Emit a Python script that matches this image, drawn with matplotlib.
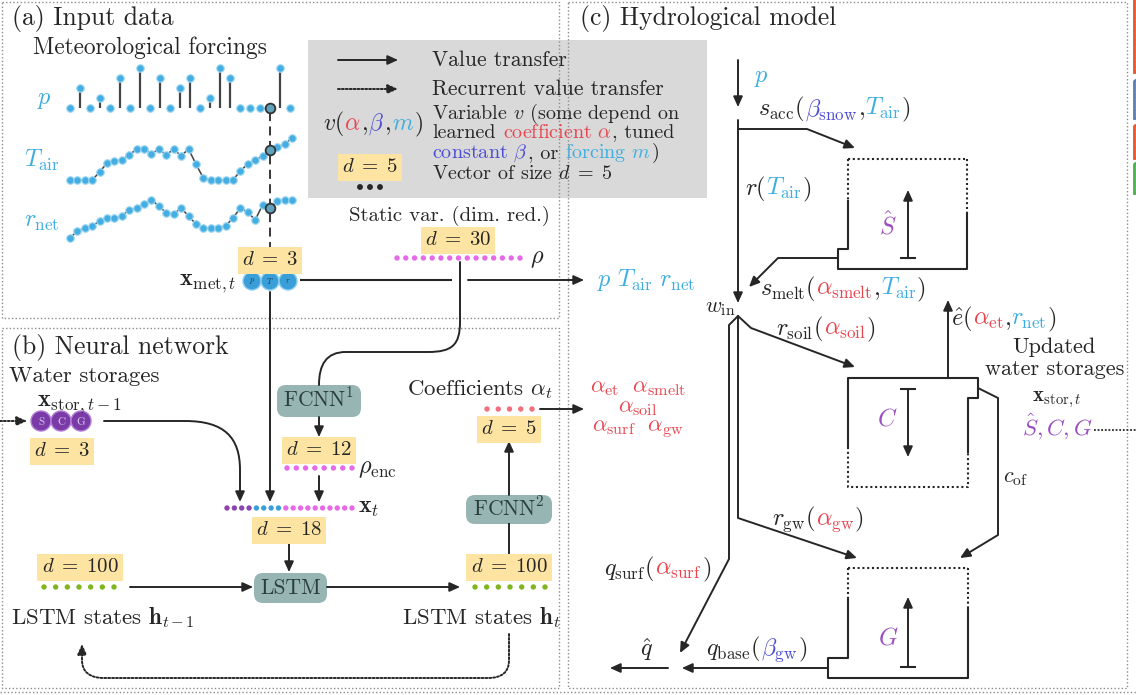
import numpy as np
import matplotlib
matplotlib.use("Agg")
import matplotlib.pyplot as plt
from matplotlib.patches import FancyBboxPatch, Circle, FancyArrowPatch, Rectangle
from matplotlib.path import Path

# ---------------- data ----------------
p_series = [0, 2, 0, 1, 0, 3, 0, 4, 0, 3, 0, 2, 3, 0, 1, 4, 3, 0, 0, 0, 0, 4, 0]
T_air_series = [0, 0, 0, 0, 8, 17, 19, 20, 25, 31, 31, 26, 31, 25, 31, 24, 31, 16, 2,
                0, 0, 0, 0, 9, 16, 20, 24, 30, 33, 36, 42]
r_net_series = [0, 7, 10, 12, 17, 20, 20, 22, 28, 30, 34, 38, 32, 25, 24, 30, 22, 14, 10,
                10, 10, 12, 20, 30, 26, 18, 33, 30, 37, 38, 38]
p_now = 20
met_now = 27

storage_letters = ["S", "C", "G"]
forcing_letters = ["p", "T", "r"]
static_dots = 15      # d = 30 (dim. red.)
enc_dots = 8          # d = 12
xt_parts = [4, 4, 10]  # storages, forcings, encoded statics -> d = 18
h_dots = 7            # d = 100
coef_dots = 5         # d = 5
coef_lines = [r"$\alpha_{\mathrm{et}}\ \ \alpha_{\mathrm{smelt}}$",
              r"$\alpha_{\mathrm{soil}}$",
              r"$\alpha_{\mathrm{surf}}\ \ \alpha_{\mathrm{gw}}$"]

# ---------------- style ----------------
plt.rcParams["mathtext.fontset"] = "cm"
plt.rcParams["font.family"] = ["cmr10", "DejaVu Serif"]
plt.rcParams["axes.unicode_minus"] = False

K = "#262626"
RED = "#e8454f"
BLUE = "#4b4bd6"
CYAN = "#3eaee0"
PURP = "#9a4fc0"
MAG = "#e46ae8"
GREEN = "#7fb51e"
PINK = "#f0707e"
YEL = "#fde4a2"
BOXC = "#96b5b3"
GRAY = "#d9d9d9"

TS = 18.5   # panel titles
BS = 15.5   # body text
LS = 14.5   # legend multi-line text
MS = 17.5   # math labels
HS = 16.5   # headings inside panels
DS = 15     # d = n labels

W, H = 1136, 695
fig = plt.figure(figsize=(W / 100, H / 100), dpi=100)
ax = fig.add_axes([0, 0, 1, 1])
ax.set_xlim(0, W)
ax.set_ylim(H, 0)
ax.axis("off")
R = fig.canvas.get_renderer()


def txt(x, y, s, size=BS, color=K, ha="left", **kw):
    return ax.text(x, y + 0.36 * size, s, fontsize=size, color=color, ha=ha,
                   va="baseline", zorder=6, **kw)


def rtext(x, y, parts, size=MS, ha="left"):
    sp = 0.333 * size * 100 / 72
    cur = x
    objs = []
    for s, c in parts:
        lead = len(s) - len(s.lstrip(" "))
        trail = len(s) - len(s.rstrip(" "))
        cur += lead * sp
        t = ax.text(cur, y + 0.36 * size, s.strip(" "), color=c, fontsize=size,
                    ha="left", va="baseline", zorder=6)
        cur += t.get_window_extent(renderer=R).width + trail * sp + 0.4
        objs.append(t)
    total = cur - x
    shift = {"left": 0, "center": -total / 2, "right": -total}[ha]
    for t in objs:
        px, py = t.get_position()
        t.set_x(px + shift)


def dlab(x, y, n, size=DS):
    ax.text(x, y + 0.36 * size, r"$d\;=\;%s$" % n, fontsize=size, color=K, ha="center",
            va="baseline", zorder=6,
            bbox=dict(boxstyle="square,pad=0.2", fc=YEL, ec="none"))


def arrow(pts, ls="-", head=True, lw=1.4, codes=None):
    path = Path(pts, codes) if codes is not None else Path(pts)
    style = "-|>,head_length=0.55,head_width=0.25" if head else "-"
    a = FancyArrowPatch(path=path, arrowstyle=style, mutation_scale=11, lw=lw,
                        color=K, linestyle=ls, shrinkA=0, shrinkB=0, zorder=4)
    ax.add_patch(a)


def seg(pts, ls="-", lw=1.5):
    xs, ys = zip(*pts)
    ax.plot(xs, ys, color=K, lw=lw, ls=ls, solid_capstyle="butt", zorder=4)


DOT = (0, (1, 1.3))


def row(x0, x1, y, colors, s=15):
    xs = np.linspace(x0, x1, len(colors))
    ax.scatter(xs, [y] * len(colors), c=colors, s=s, linewidths=0, zorder=5)


def rbox(x0, y0, w, h, label, size=15.5):
    ax.add_patch(FancyBboxPatch((x0, y0), w, h, boxstyle="round,pad=0,rounding_size=9",
                                fc=BOXC, ec="none", zorder=3))
    ax.text(x0 + w / 2, y0 + h / 2 + 0.36 * size, label, fontsize=size, color="#2b3d3d",
            ha="center", va="baseline", zorder=6)


# ---------------- panel frames ----------------
fr = dict(color="#8c8c8c", lw=1, ls=(0, (1, 1.6)), zorder=1)
ax.plot([2, 559, 559, 2, 2], [2, 2, 318, 318, 2], **fr)
ax.plot([2, 559, 559, 2, 2], [328, 328, 688, 688, 328], **fr)
ax.plot([568, 1127, 1127, 568, 568], [2, 2, 688, 688, 2], **fr)
ax.plot([0, 1136], [692, 692], **fr)
for (y0, h, c) in [(-3, 75, "#e4572e"), (80, 38, "#5b7fae"), (125, 33, "#e4572e"), (163, 30, "#4caf50")]:
    ax.add_patch(Rectangle((1133.5, y0), 8, h, fc="none", ec=c, lw=2, zorder=2))

# ---------------- (a) input data ----------------
txt(12, 18, "(a) Input data", size=TS)
txt(33, 48, "Meteorological forcings", size=16.8)
txt(37, 98, r"$p$", size=MS, color=CYAN)
txt(24, 161, r"$T_{\mathrm{air}}$", size=MS, color=CYAN)
txt(24, 221, r"$r_{\mathrm{net}}$", size=MS, color=CYAN)


def spark(x0, x1, yb, yt, n, vmax):
    a = fig.add_axes([x0 / W, 1 - yb / H, (x1 - x0) / W, (yb - yt) / H])
    a.set_xlim(0, n - 1)
    a.set_ylim(0, vmax)
    a.axis("off")
    a.patch.set_visible(False)
    return a


mk = dict(marker="o", ms=5.4, mfc="#44aee2", mec="#9dd6f2", mew=0.8, clip_on=False)
cur_mk = dict(marker="o", ms=7, mfc="#5fa2bc", mec="#333333", mew=1.3, clip_on=False, zorder=5)

idx = np.arange(len(p_series))
ap = spark(70, 290, 108, 68, len(p_series), 4)
ap.vlines(idx, 0, p_series, color="#444444", lw=1.6)
ap.plot(idx, p_series, ls="none", **mk)
ap.plot([p_now], [p_series[p_now]], ls="none", **cur_mk)

tidx = np.arange(len(T_air_series))
at = spark(70, 292.2, 180, 138, len(T_air_series), 42)
at.plot(tidx, T_air_series, color="#444444", lw=1.1, **mk)
at.plot([met_now], [T_air_series[met_now]], ls="none", **cur_mk)

ridx = np.arange(len(r_net_series))
ar = spark(70, 292.2, 238, 200, len(r_net_series), 38)
ar.plot(ridx, r_net_series, color="#444444", lw=1.1, **mk)
ar.plot([met_now], [r_net_series[met_now]], ls="none", **cur_mk)

ax.plot([270, 270], [112, 249], color=K, lw=1.3, ls=(0, (5, 3)), zorder=2)

# x_met vector
dlab(270, 260, 3)
for i, l in enumerate(forcing_letters):
    cx = 252 + 18 * i
    ax.add_patch(Circle((cx, 281), 9, fc="#3a9fd8", ec="#8ccdf0", lw=1, zorder=5))
    ax.text(cx, 281, r"$%s$" % l, fontsize=6, color="#16425e", ha="center", va="center", zorder=6)
txt(236, 279, r"$\mathbf{x}_{\mathrm{met},t}$", size=MS, ha="right")
seg([(300, 280), (452, 280)])
arrow([(468, 280), (584, 280)])
txt(597, 280, r"$p\ T_{\mathrm{air}}\ r_{\mathrm{net}}$", size=MS, color=CYAN)

# static variables
txt(449, 216, "Static var. (dim. red.)", size=15, ha="center")
dlab(458, 240, 30)
row(397, 520, 258, [MAG] * static_dots)
txt(530, 257, r"$\rho$", size=MS)

# legend box
ax.add_patch(Rectangle((308, 40), 399, 158, fc=GRAY, ec="none", zorder=0))
arrow([(338, 60), (398, 60)])
arrow([(338, 89), (398, 89)], ls=(0, (1, 1)))
txt(432, 60, "Value transfer")
txt(432, 89, "Recurrent value transfer")
rtext(373, 124, [(r"$v($", K), (r"$\alpha$", RED), (r"$,$", K), (r"$\beta$", BLUE),
                 (r"$,$", K), (r"$m$", CYAN), (r"$)$", K)], size=17, ha="center")
txt(432, 113.5, r"Variable $v$ (some depend on", size=LS)
rtext(432, 133, [("learned ", K), (r"coefficient $\alpha$", RED), (", tuned", K)], size=LS)
rtext(432, 152.5, [(r"constant $\beta$", BLUE), (", or ", K), (r"forcing $m$", CYAN), (")", K)], size=LS)
dlab(370, 167, 5)
row(360, 380, 187, [K] * 3, s=18)
txt(432, 174, r"Vector of size $d\;=\;5$", size=LS)

# ---------------- (b) neural network ----------------
txt(12, 347, "(b) Neural network", size=TS)
txt(9, 376, "Water storages", size=HS)
txt(37, 400, r"$\mathbf{x}_{\mathrm{stor},t-1}$", size=MS)
arrow([(0, 421), (27, 421)], ls=(0, (1, 1)))
for i, l in enumerate(storage_letters):
    cx = 41 + 20 * i
    ax.add_patch(Circle((cx, 421), 10, fc="#7a3aa8", ec="#b27fd6", lw=1, zorder=5))
    ax.text(cx, 422, l, fontsize=8, color="#dcc3f0", ha="center", va="center", zorder=6)
dlab(62, 451, 3)
arrow([(104, 421), (185, 421), (225, 421), (240, 438), (240, 470), (240, 502)],
      codes=[Path.MOVETO, Path.LINETO, Path.CURVE4, Path.CURVE4, Path.CURVE4, Path.LINETO])
arrow([(270, 292), (270, 502)])

# static -> FCNN1
arrow([(460, 262), (460, 322), (460, 345), (452, 352), (428, 352), (346, 352),
       (326, 352), (319, 365), (319, 385)],
      codes=[Path.MOVETO, Path.LINETO, Path.CURVE4, Path.CURVE4, Path.CURVE4, Path.LINETO,
             Path.CURVE4, Path.CURVE4, Path.CURVE4], head=False)
rbox(277, 385, 84, 32, r"FCNN$^1$")
arrow([(319, 417), (319, 437)])
dlab(319, 450, 12)
row(287, 352, 468, [MAG] * enc_dots)
txt(358, 467, r"$\rho_{\mathrm{enc}}$", size=MS)
arrow([(319, 476), (319, 502)])

xt_colors = ["#8e44b0"] * xt_parts[0] + ["#3a9fd8"] * xt_parts[1] + [MAG] * xt_parts[2]
row(227, 352, 508, xt_colors)
txt(358, 507, r"$\mathbf{x}_t$", size=MS)
dlab(289, 530, 18)
arrow([(289, 542), (289, 572)])
rbox(254, 573, 73, 30, "LSTM")

dlab(80, 567, 100)
row(44, 114, 587, [GREEN] * h_dots)
arrow([(130, 587), (253, 587)])
arrow([(327, 587), (460, 587)])
dlab(509, 567, 100)
row(475, 545, 587, [GREEN] * h_dots)
txt(11, 618, r"LSTM states $\mathbf{h}_{t-1}$", size=HS)
txt(402, 618, r"LSTM states $\mathbf{h}_t$", size=HS)

seg([(509, 578), (509, 523)], lw=1.4)
rbox(466, 495, 86, 29, r"FCNN$^2$")
arrow([(509, 495), (509, 441)])
dlab(509, 429, 5)
row(487, 532, 409, [PINK] * coef_dots)
txt(407, 389, r"Coefficients $\alpha_t$", size=HS)
arrow([(540, 409), (584, 409)])
ax.text(638, 410, "\n".join(coef_lines), fontsize=16.5, color=RED, ha="center",
        va="center", linespacing=0.92, multialignment="center", zorder=6)

# recurrent
arrow([(509, 634), (509, 660), (509, 672), (502, 678), (488, 678), (104, 678),
       (90, 678), (82, 672), (82, 660), (82, 644)],
      codes=[Path.MOVETO, Path.LINETO, Path.CURVE4, Path.CURVE4, Path.CURVE4, Path.LINETO,
             Path.CURVE4, Path.CURVE4, Path.CURVE4, Path.LINETO], ls=(0, (1, 1)))

# ---------------- (c) hydrological model ----------------
txt(580, 18, "(c) Hydrological model", size=TS)
arrow([(738, 60), (738, 107)])
txt(754, 76, r"$p$", size=MS, color=CYAN)
rtext(758, 109, [(r"$s_{\mathrm{acc}}($", K), (r"$\beta_{\mathrm{snow}}$", BLUE), (r"$,\,$", K),
                 (r"$T_{\mathrm{air}}$", CYAN), (r"$)$", K)])
arrow([(738, 120), (738, 303)])
arrow([(738, 129), (807, 129), (855, 148)])
rtext(745, 189, [(r"$r($", K), (r"$T_{\mathrm{air}}$", CYAN), (r"$)$", K)])

# snow storage
seg([(848, 159), (967, 159)], ls=DOT)
seg([(848, 159), (848, 200)], ls=DOT)
seg([(967, 159), (967, 213)], ls=DOT)
seg([(848, 200), (848, 249), (838, 249), (838, 269), (967, 269), (967, 213)])
seg([(900, 258), (916, 258)])
arrow([(908, 258), (908, 190)])
txt(888, 228, r"$\hat{S}$", size=MS, color=PURP, ha="center")
arrow([(838, 258), (778, 258), (749, 287)])
rtext(760, 289, [(r"$s_{\mathrm{melt}}($", K), (r"$\alpha_{\mathrm{smelt}}$", RED), (r"$,\,$", K),
                 (r"$T_{\mathrm{air}}$", CYAN), (r"$)$", K)])
txt(720, 306, r"$w_{\mathrm{in}}$", size=16, ha="center")

# splits from w_in
arrow([(738, 316), (729, 325), (729, 559), (680, 653)])
arrow([(738, 316), (738, 518), (857, 558)])
arrow([(738, 316), (751, 328), (855, 367)])
rtext(776, 329, [(r"$r_{\mathrm{soil}}($", K), (r"$\alpha_{\mathrm{soil}}$", RED), (r"$)$", K)])

# soil storage
seg([(848, 447), (848, 378), (978, 378), (978, 398), (968, 398), (968, 453)])
seg([(848, 447), (848, 487), (968, 487), (968, 453)], ls=DOT)
seg([(900, 389), (916, 389)])
arrow([(908, 389), (908, 457)])
txt(887, 419, r"$C$", size=MS, color=PURP, ha="center")
arrow([(948, 378), (948, 300)])
rtext(951, 319, [(r"$\hat{e}($", K), (r"$\alpha_{\mathrm{et}}$", RED), (r"$,\,$", K),
                 (r"$r_{\mathrm{net}}$", CYAN), (r"$)$", K)])
arrow([(978, 388), (998, 398), (998, 535), (960, 558)])
txt(1003, 476, r"$c_{\mathrm{of}}$", size=16)

txt(1054, 347, "Updated", size=16, ha="center")
txt(1055, 369, "water storages", size=16, ha="center")
txt(1057, 396, r"$\mathbf{x}_{\mathrm{stor},t}$", size=15, ha="center")
txt(1057, 430, r"$\hat{S}, C, G$", size=16.5, color=PURP, ha="center")
seg([(1094, 430), (1136, 430)], ls=(0, (1, 1)), lw=1.3)

rtext(772, 519, [(r"$r_{\mathrm{gw}}($", K), (r"$\alpha_{\mathrm{gw}}$", RED), (r"$)$", K)])
rtext(604, 569, [(r"$q_{\mathrm{surf}}($", K), (r"$\alpha_{\mathrm{surf}}$", RED), (r"$)$", K)])

# groundwater storage
seg([(848, 568), (968, 568)], ls=DOT)
seg([(848, 568), (848, 597)], ls=DOT)
seg([(968, 568), (968, 607)], ls=DOT)
seg([(848, 597), (848, 658), (828, 658), (828, 678), (968, 678), (968, 607)])
seg([(900, 667), (916, 667)])
arrow([(908, 667), (908, 597)])
txt(888, 638, r"$G$", size=MS, color=PURP, ha="center")
arrow([(828, 668), (682, 668)])
rtext(706, 649, [(r"$q_{\mathrm{base}}($", K), (r"$\beta_{\mathrm{gw}}$", BLUE), (r"$)$", K)])
arrow([(668, 668), (610, 668)])
txt(647, 650, r"$\hat{q}$", size=MS, ha="center")

fig.savefig("out.png", dpi=100)
